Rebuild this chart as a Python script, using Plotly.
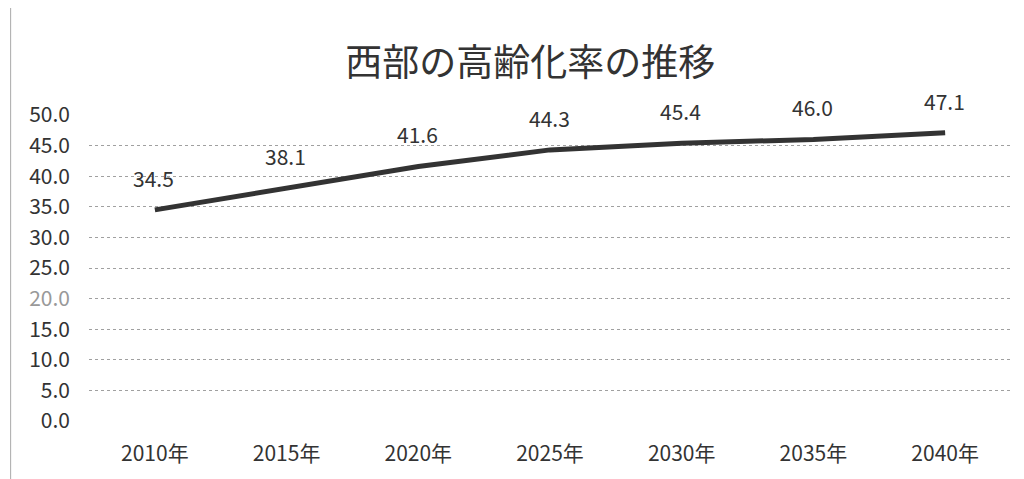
import plotly.graph_objects as go

years = ["2010年", "2015年", "2020年", "2025年", "2030年", "2035年", "2040年"]
rates = [34.5, 38.1, 41.6, 44.3, 45.4, 46.0, 47.1]
y_ticks = [0, 5, 10, 15, 20, 25, 30, 35, 40, 45, 50]
y_tick_labels = ["0.0", "5.0", "10.0", "15.0", "<span style='color:#999999'>20.0</span>",
                 "25.0", "30.0", "35.0", "40.0", "45.0", "50.0"]
title_text = "西部の高齢化率の推移"

font_family = "Noto Sans CJK JP, Noto Sans, sans-serif"

fig = go.Figure()
fig.add_trace(go.Scatter(
    x=years, y=rates, mode="lines",
    line=dict(color="#333333", width=5),
    hoverinfo="skip", showlegend=False,
))

annotations = []
for x, v in zip(years, rates):
    annotations.append(dict(
        x=x, y=v, xref="x", yref="y", text=f"{v:.1f}", showarrow=False,
        yshift=32, xshift=-1, font=dict(size=21, color="#333333", family=font_family),
    ))

fig.update_layout(
    width=1024, height=479,
    margin=dict(l=81, r=21, t=107, b=66),
    paper_bgcolor="white", plot_bgcolor="white",
    title=dict(text=title_text, x=0.51, xanchor="center", y=0.885, yanchor="middle",
               font=dict(size=37, color="#333333", family=font_family)),
    annotations=annotations,
    xaxis=dict(range=[-0.5, 6.5], showgrid=False, showline=False, ticks="", zeroline=False,
               tickfont=dict(size=21, color="#333333", family=font_family),
               ticklabelstandoff=18),
    yaxis=dict(range=[0, 50], tickvals=y_ticks, ticktext=y_tick_labels,
               showgrid=True, gridcolor="#a0a0a0", gridwidth=1, griddash="dot",
               zeroline=False, showline=False, ticks="", ticklabelstandoff=18,
               tickfont=dict(size=21, color="#333333", family=font_family)),
    shapes=[dict(type="line", xref="paper", yref="paper", x0=-0.085, x1=-0.085,
                 y0=-0.3, y1=1.4, line=dict(color="#aaaaaa", width=1))],
)
fig.write_html("out.html")
